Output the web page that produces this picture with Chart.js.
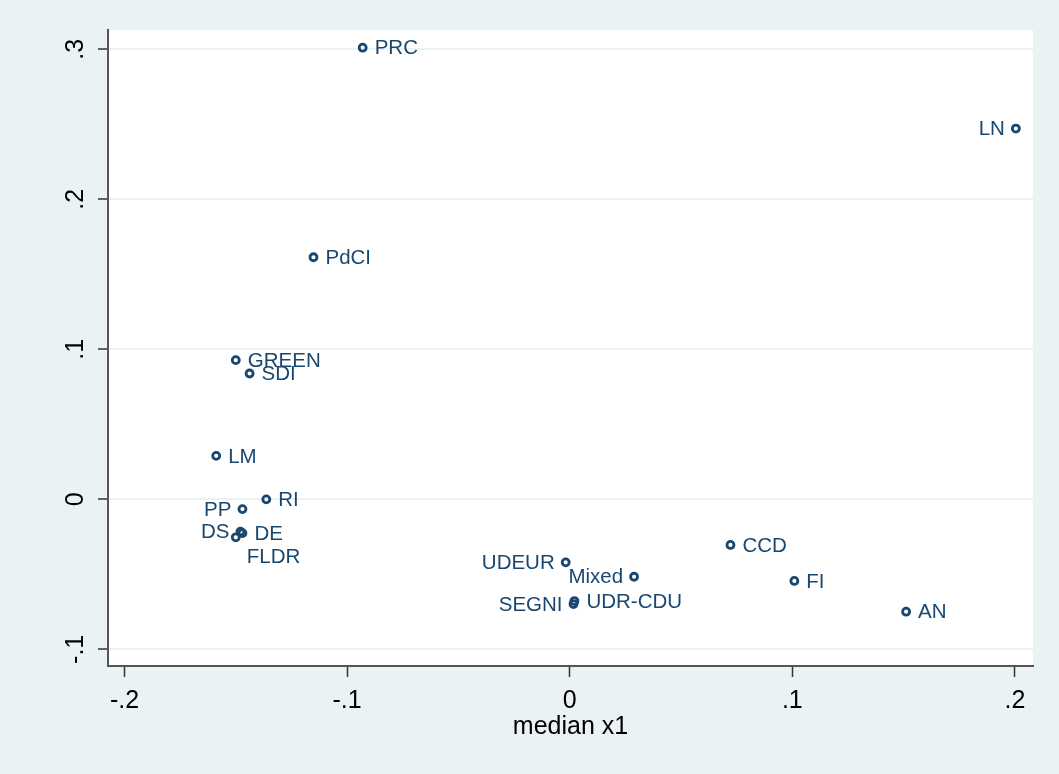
<!DOCTYPE html>
<html>
<head>
<meta charset="utf-8">
<title>median x1 scatter</title>
<script src="https://cdn.jsdelivr.net/npm/chart.js@4/dist/chart.umd.min.js"></script>
<style>
  html, body { margin: 0; padding: 0; background: #eaf2f3; }
  #wrap { width: 1059px; height: 774px; }
</style>
</head>
<body>
<div id="wrap"><canvas id="c" width="1059" height="774"></canvas></div>
<script>
// Party labels and their coordinates
const parties = ['PRC', 'LN', 'PdCI', 'GREEN', 'SDI', 'LM', 'RI', 'PP', 'DS', 'DE', 'FLDR',
                 'UDEUR', 'Mixed', 'SEGNI', 'UDR-CDU', 'CCD', 'FI', 'AN'];
const xValues = [-0.0930, 0.2004, -0.1151, -0.1500, -0.1438, -0.1588, -0.1363, -0.1470, -0.1479, -0.1470, -0.1500,
                 -0.0018, 0.0289, 0.0017, 0.0021, 0.0722, 0.1009, 0.1511];
const yValues = [0.3011, 0.2472, 0.1614, 0.0928, 0.0839, 0.0290, 0.0000, -0.0065, -0.0215, -0.0225, -0.0253,
                 -0.0420, -0.0516, -0.0698, -0.0678, -0.0304, -0.0544, -0.0749];
const xTicks = [-0.2, -0.1, 0, 0.1, 0.2];
const yTicks = [-0.1, 0, 0.1, 0.2, 0.3];
const xTitle = 'median x1';

// Marker-label clock positions (default 3 o'clock, to the right)
const labelClock = { LN: 9, PP: 9, DS: 9, UDEUR: 9, Mixed: 9, SEGNI: 9, FLDR: 4 };

const NAVY = '#1a476f';
const FONT = '"Liberation Sans", Arial, Helvetica, sans-serif';

// Stata-style number format: ".1", "-.2", "0"
function fmt(v) {
  if (Math.abs(v) < 1e-9) return '0';
  return v.toFixed(1).replace('0.', '.');
}

const backgroundPlugin = {
  id: 'bg',
  beforeDraw(chart) {
    const { ctx, chartArea: a } = chart;
    ctx.save();
    ctx.fillStyle = '#eaf2f3';
    ctx.fillRect(0, 0, chart.width, chart.height);
    ctx.fillStyle = '#ffffff';
    ctx.fillRect(a.left, a.top, a.right - a.left, a.bottom - a.top);
    ctx.restore();
  }
};

// Rotated y tick labels
const yLabelPlugin = {
  id: 'yLabels',
  afterDraw(chart) {
    const { ctx } = chart;
    const ys = chart.scales.y;
    ctx.save();
    ctx.fillStyle = '#000';
    ctx.font = '25px ' + FONT;
    ctx.textAlign = 'center';
    ctx.textBaseline = 'middle';
    yTicks.forEach(v => {
      const py = ys.getPixelForValue(v);
      ctx.save();
      ctx.translate(75, py);
      ctx.rotate(-Math.PI / 2);
      ctx.fillText(fmt(v), 0, 1);
      ctx.restore();
    });
    ctx.restore();
  }
};

// Marker labels
const markerLabelPlugin = {
  id: 'markerLabels',
  afterDatasetsDraw(chart) {
    const { ctx } = chart;
    const meta = chart.getDatasetMeta(0);
    ctx.save();
    ctx.fillStyle = NAVY;
    ctx.font = '20.5px ' + FONT;
    ctx.textBaseline = 'middle';
    meta.data.forEach((pt, i) => {
      const name = parties[i];
      const clock = labelClock[name] || 3;
      let dx = 12, dy = 1, align = 'left';
      if (clock === 9) { dx = -11; align = 'right'; }
      else if (clock === 4) { dx = 11; dy = 20; align = 'left'; }
      ctx.textAlign = align;
      ctx.fillText(name, pt.x + dx, pt.y + dy);
    });
    ctx.restore();
  }
};

new Chart(document.getElementById('c'), {
  type: 'scatter',
  data: {
    datasets: [{
      data: parties.map((p, i) => ({ x: xValues[i], y: yValues[i] })),
      pointStyle: 'circle',
      pointRadius: 3.5,
      borderWidth: 2.8,
      borderColor: NAVY,
      backgroundColor: 'rgba(255,255,255,0)'
    }]
  },
  options: {
    responsive: false,
    animation: false,
    devicePixelRatio: 1,
    events: [],
    layout: { padding: { left: 0, top: 30, right: 26, bottom: 0 } },
    plugins: { legend: { display: false }, tooltip: { enabled: false } },
    scales: {
      x: {
        type: 'linear',
        min: -0.2074,
        max: 0.2081,
        afterBuildTicks(scale) { scale.ticks = xTicks.map(v => ({ value: v })); },
        afterFit(scale) { scale.height = 108; },
        border: { display: true, color: '#555555', width: 2 },
        grid: { drawOnChartArea: false, drawTicks: true, tickLength: 11, tickColor: '#333333', tickWidth: 1.5 },
        ticks: {
          color: '#000', padding: 9, maxRotation: 0, autoSkip: false,
          font: { family: FONT, size: 25 },
          callback: v => fmt(v)
        },
        title: {
          display: true, text: xTitle, color: '#000',
          font: { family: FONT, size: 25 }, padding: { top: 0, bottom: 32 }
        }
      },
      y: {
        type: 'linear',
        min: -0.1111,
        max: 0.3129,
        afterBuildTicks(scale) { scale.ticks = yTicks.map(v => ({ value: v })); },
        afterFit(scale) { scale.width = 108; },
        border: { display: true, color: '#555555', width: 2 },
        grid: { drawOnChartArea: true, color: '#eaf2f3', lineWidth: 2, drawTicks: true, tickLength: 10, tickColor: '#333333', tickWidth: 1.5 },
        ticks: { display: false }
      }
    }
  },
  plugins: [backgroundPlugin, yLabelPlugin, markerLabelPlugin]
});
</script>
</body>
</html>
